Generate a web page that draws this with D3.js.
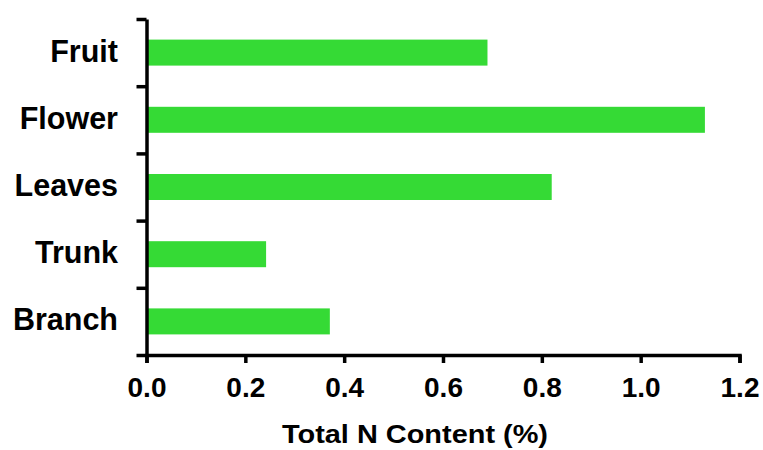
<!DOCTYPE html>
<html>
<head>
<meta charset="utf-8">
<script src="https://cdn.jsdelivr.net/npm/d3@7"></script>
<style>
  html, body { margin: 0; padding: 0; background: #fff; }
  svg { display: block; }
</style>
</head>
<body>
<svg id="chart" width="763" height="450"></svg>
<script>
const categories = ["Fruit", "Flower", "Leaves", "Trunk", "Branch"];
const values = [0.69, 1.13, 0.82, 0.242, 0.371];
const xTicks = [0.0, 0.2, 0.4, 0.6, 0.8, 1.0, 1.2];
const xTitle = "Total N Content (%)";

(function () {
const svg = d3.select("#chart");
const pLeft = 146.5, pRight = 739.5, pTop = 19, pBottom = 355;

const x = d3.scaleLinear().domain([0, 1.2]).range([pLeft, pRight]);
const pIn = 1 - 26 / ((pBottom - pTop) / categories.length);
const y = d3.scaleBand().domain(categories).range([pTop, pBottom])
  .paddingInner(pIn).paddingOuter(pIn / 2);

// bars
svg.append("g").selectAll("rect").data(categories).join("rect")
  .attr("x", x(0))
  .attr("y", d => y(d))
  .attr("width", (d, i) => x(values[i]) - x(0))
  .attr("height", y.bandwidth())
  .attr("fill", "#35da35");

// y axis with boundary ticks
const yb = d3.scaleLinear().domain([0, categories.length]).range([pBottom, pTop]);
const yAxis = svg.append("g").attr("transform", `translate(${pLeft},0)`)
  .call(d3.axisLeft(yb).tickValues(d3.range(categories.length + 1)).tickFormat("").tickSize(10).tickSizeOuter(0));
yAxis.select(".domain").attr("stroke", "#000").attr("stroke-width", 3.5);
yAxis.selectAll(".tick line").attr("stroke", "#000").attr("stroke-width", 3.5);

// category labels
svg.append("g").selectAll("text").data(categories).join("text")
  .attr("x", 118)
  .attr("y", d => y(d) + y.bandwidth() / 2 + 9)
  .attr("text-anchor", "end")
  .attr("font-family", "Liberation Sans, Arial, sans-serif")
  .attr("font-weight", "bold")
  .attr("font-size", 30.5)
  .attr("fill", "#000")
  .text(d => d);

// x axis
const xAxis = svg.append("g").attr("transform", `translate(0,${pBottom})`)
  .call(d3.axisBottom(x).tickValues(xTicks).tickFormat(d3.format(".1f")).tickSize(8).tickSizeOuter(8).tickPadding(14));
xAxis.select(".domain").attr("stroke", "#000").attr("stroke-width", 3.5);
xAxis.selectAll(".tick line").attr("stroke", "#000").attr("stroke-width", 3.5);
xAxis.selectAll(".tick text")
  .attr("font-family", "Liberation Sans, Arial, sans-serif")
  .attr("font-weight", "bold")
  .attr("font-size", 28)
  .attr("fill", "#000");

// x title
svg.append("text")
  .attr("x", 415)
  .attr("y", 443)
  .attr("text-anchor", "middle")
  .attr("font-family", "Liberation Sans, Arial, sans-serif")
  .attr("font-weight", "bold")
  .attr("font-size", 25)
  .attr("textLength", 266)
  .attr("lengthAdjust", "spacingAndGlyphs")
  .attr("fill", "#000")
  .text(xTitle);
})();
</script>
</body>
</html>
